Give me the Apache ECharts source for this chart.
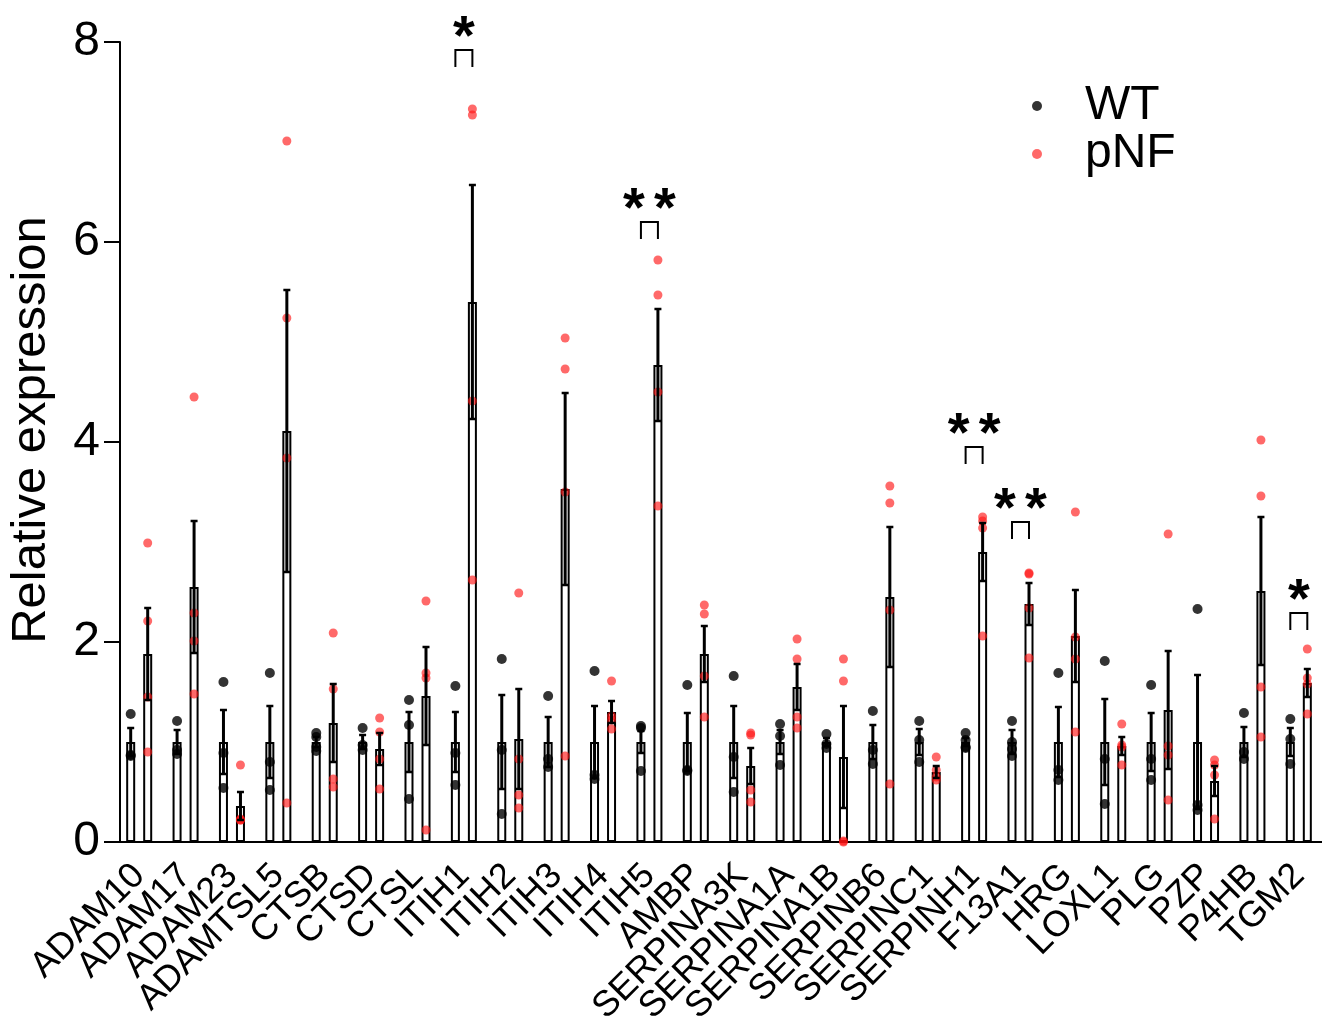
<!DOCTYPE html>
<html>
<head>
<meta charset="utf-8">
<script src="https://cdn.jsdelivr.net/npm/echarts@6/dist/echarts.min.js"></script>
<style>
  html, body { margin: 0; padding: 0; background: #fff; }
  #chart { width: 1322px; height: 1036px; }
</style>
</head>
<body>
<div id="chart"></div>
<script>
// Gene panel
const genes = ['ADAM10','ADAM17','ADAM23','ADAMTSL5','CTSB','CTSD','CTSL','ITIH1','ITIH2','ITIH3','ITIH4','ITIH5','AMBP',
  'SERPINA3K','SERPINA1A','SERPINA1B','SERPINB6','SERPINC1','SERPINH1','F13A1','HRG','LOXL1','PLG','PZP','P4HB','TGM2'];

// Group means and SEM
const wtMean  = [1.0,1.0,1.0,1.0,1.0,1.0,1.0,1.0,1.0,1.0,1.0,1.0,1.0,1.0,1.0,1.0,1.0,1.0,1.0,1.0,1.0,1.0,1.0,1.0,1.0,1.0];
const wtSem   = [0.14,0.12,0.32,0.36,0.05,0.07,0.30,0.30,0.47,0.25,0.36,0.11,0.29,0.36,0.12,0.04,0.17,0.13,0.04,0.12,0.35,0.43,0.29,0.67,0.15,0.14];
const pnfMean = [1.88,2.55,0.36,4.11,1.19,0.93,1.46,5.40,1.03,3.53,1.30,4.77,1.88,0.76,1.55,0.85,2.45,0.70,2.90,2.38,2.06,0.96,1.32,0.61,2.51,1.59];
const pnfSem  = [0.46,0.66,0.14,1.41,0.39,0.16,0.49,1.17,0.50,0.96,0.11,0.56,0.28,0.18,0.23,0.51,0.70,0.06,0.29,0.21,0.46,0.09,0.59,0.15,0.74,0.14];

// Individual samples
const wtPoints = [
  [1.28,0.87,0.86],[1.21,0.92,0.88],[1.60,0.89,0.54],[1.69,0.80,0.52],[1.09,1.05,0.95,0.91],[1.14,0.97,0.92],
  [1.42,1.17,0.43],[1.56,0.89,0.57],[1.83,0.92,0.28],[1.46,0.83,0.75],[1.71,0.67,0.63],[1.16,1.14,0.71],
  [1.57,0.72,0.71],[1.66,0.85,0.50],[1.18,1.06,0.77],[1.08,0.98,0.94],[1.31,0.92,0.78],[1.21,1.02,0.80],
  [1.09,1.02,0.95,0.94],[1.21,1.00,0.93,0.86],[1.69,0.72,0.62],[1.81,0.83,0.38],[1.57,0.83,0.62],[2.33,0.37,0.32],
  [1.29,0.90,0.83],[1.23,1.03,0.78]
];
const pnfPoints = [
  [2.99,2.21,1.45,0.90],[4.45,2.29,2.01,1.48],[0.77,0.23,0.22,0.22],[7.01,5.24,3.84,0.39],[2.09,1.53,0.63,0.55],
  [1.24,1.10,0.83,0.53],[2.41,1.69,1.64,0.12],[7.33,7.27,4.41,2.62],[2.49,0.83,0.47,0.34],[5.04,4.73,3.50,0.86],
  [1.61,1.26,1.22,1.13],[5.82,5.47,4.50,3.36],[2.37,2.28,1.66,1.25],[1.09,1.07,0.52,0.40],[2.03,1.83,1.25,1.14],
  [1.83,1.61,0.01,0.00],[3.56,3.39,2.32,0.58],[0.85,0.72,0.65,0.62],[3.25,3.21,3.14,2.06],[2.69,2.68,2.34,1.84],
  [3.30,2.05,1.83,1.10],[1.18,0.97,0.95,0.77],[3.08,0.96,0.87,0.42],[0.82,0.77,0.67,0.23],[4.02,3.46,1.55,1.05],
  [1.93,1.64,1.58,1.28]
];

// Significance marks (bracket height in axis units)
const sigGenes  = ['ITIH1','ITIH5','SERPINH1','F13A1','TGM2'];
const sigMarks  = ['*','**','**','**','*'];
const sigLevels = [7.92, 6.20, 3.95, 3.20, 2.29];

const yTicks = [0, 2, 4, 6, 8];

const FONT = '"Liberation Sans", Arial, Helvetica, sans-serif';
const HALF = 8.5;       // half distance between the paired bar centres
const RED = 'rgba(255,20,20,0.8)';

const toPoints = (groups) => groups.flatMap((vals, i) => vals.map(v => [i, v]));

function errorSeries(name, means, sems, dx) {
  return {
    type: 'custom', name, z: 5, silent: true,
    data: means.map((m, i) => [i, m, sems[i]]),
    renderItem(params, api) {
      const i = api.value(0), m = api.value(1), s = api.value(2);
      const top = api.coord([i, m + s]);
      const bot = api.coord([i, Math.max(0, m - s)]);
      const x = top[0] + dx, cap = 3.5;
      return { type: 'group', children: [
        { type: 'line', shape: { x1: x, y1: top[1], x2: x, y2: bot[1] }, style: { stroke: '#000', lineWidth: 3 } },
        { type: 'line', shape: { x1: x - cap, y1: top[1], x2: x + cap, y2: top[1] }, style: { stroke: '#000', lineWidth: 2.5 } },
        { type: 'line', shape: { x1: x - cap, y1: bot[1], x2: x + cap, y2: bot[1] }, style: { stroke: '#000', lineWidth: 2.5 } }
      ]};
    }
  };
}

const chart = echarts.init(document.getElementById('chart'), null, { renderer: 'canvas' });

chart.setOption({
  animation: false,
  backgroundColor: '#fff',
  grid: { left: 116, right: 0, top: 42, bottom: 194, containLabel: false, outerBoundsMode: 'none' },
  legend: {
    data: ['WT', 'pNF'], orient: 'vertical', left: 1027, top: 77, padding: 5,
    icon: 'circle', itemWidth: 10, itemHeight: 10, itemGap: 0, selectedMode: false,
    textStyle: { fontSize: 48, fontFamily: FONT, color: '#000', padding: [0, 0, 0, 38], lineHeight: 47 }
  },
  xAxis: {
    type: 'category', data: genes,
    axisLine: { lineStyle: { color: '#000', width: 2 } },
    axisTick: { alignWithLabel: true, length: 16, lineStyle: { color: '#000', width: 2 } },
    axisLabel: { interval: 0, rotate: 45, fontSize: 36, fontFamily: FONT, color: '#000', margin: 28 },
    splitLine: { show: false }
  },
  yAxis: {
    type: 'value', min: yTicks[0], max: yTicks[yTicks.length - 1], interval: 2, offset: -4,
    name: 'Relative expression', nameLocation: 'middle', nameRotate: 90, nameGap: 64,
    nameTextStyle: { fontSize: 49, fontFamily: FONT, color: '#000', padding: [0, 0, 0, 24] },
    axisLine: { show: true, lineStyle: { color: '#000', width: 2 } },
    axisTick: { show: true, length: 16, lineStyle: { color: '#000', width: 2 } },
    axisLabel: { fontSize: 48, fontFamily: FONT, color: '#000', margin: 20 },
    splitLine: { show: false }
  },
  series: [
    { type: 'bar', name: 'WT mean', data: wtMean, barWidth: 9, barGap: '89%', z: 2, silent: true,
      itemStyle: { color: '#fff', borderColor: '#000', borderWidth: 2 } },
    { type: 'bar', name: 'pNF mean', data: pnfMean, barWidth: 9, barGap: '89%', z: 2, silent: true,
      itemStyle: { color: '#fff', borderColor: '#000', borderWidth: 2 } },
    { type: 'scatter', name: 'WT', data: toPoints(wtPoints), symbol: 'circle', symbolSize: 10,
      symbolOffset: [-HALF, 0], itemStyle: { color: '#000' }, z: 3 },
    { type: 'scatter', name: 'pNF', data: toPoints(pnfPoints), symbol: 'circle', symbolSize: 9,
      symbolOffset: [HALF, 0], itemStyle: { color: RED }, z: 3 },
    errorSeries('WT SEM', wtMean, wtSem, -HALF),
    errorSeries('pNF SEM', pnfMean, pnfSem, HALF),
    {
      type: 'custom', name: 'significance', z: 6, silent: true,
      data: sigGenes.map((g, k) => [genes.indexOf(g), sigLevels[k], k]),
      renderItem(params, api) {
        const p = api.coord([api.value(0), api.value(1)]);
        const mark = sigMarks[api.value(2)];
        const children = [{
          type: 'polyline',
          shape: { points: [[p[0] - HALF, p[1] + 17], [p[0] - HALF, p[1]], [p[0] + HALF, p[1]], [p[0] + HALF, p[1] + 17]] },
          style: { stroke: '#000', lineWidth: 2, fill: null }
        }];
        const n = mark.length, gap = 31;
        for (let j = 0; j < n; j++) {
          children.push({
            type: 'text', x: p[0] + (j - (n - 1) / 2) * gap, y: p[1] - 11,
            style: { text: '*', fill: '#000', font: 'bold 56px ' + FONT, align: 'center', verticalAlign: 'middle' }
          });
        }
        return { type: 'group', children };
      }
    }
  ]
});
</script>
</body>
</html>
